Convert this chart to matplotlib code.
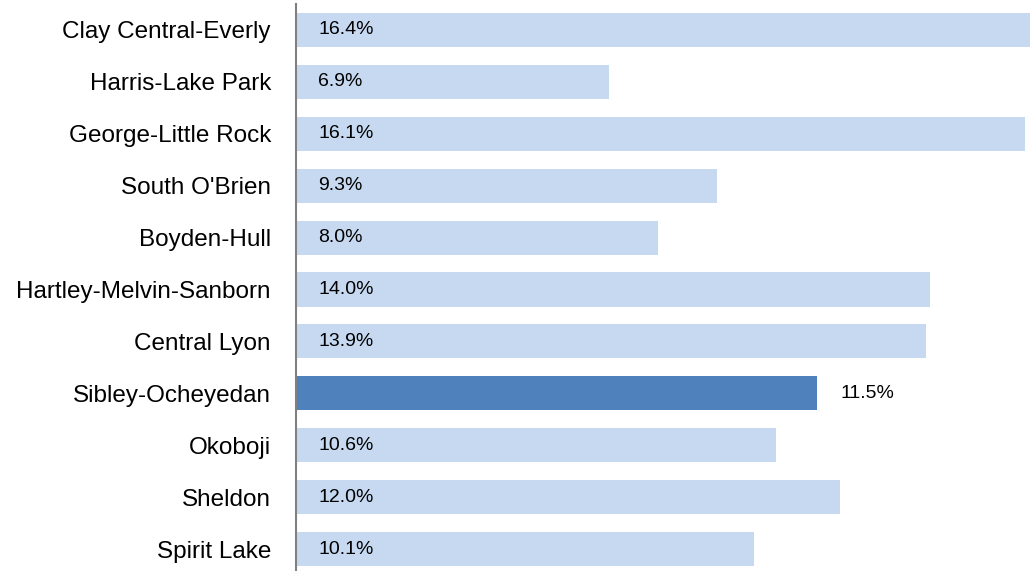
import numpy as np
import matplotlib.pyplot as plt

districts = ["Clay Central-Everly", "Harris-Lake Park", "George-Little Rock",
             "South O'Brien", "Boyden-Hull", "Hartley-Melvin-Sanborn",
             "Central Lyon", "Sibley-Ocheyedan", "Okoboji", "Sheldon", "Spirit Lake"]
pct = [16.4, 6.9, 16.1, 9.3, 8.0, 14.0, 13.9, 11.5, 10.6, 12.0, 10.1]
highlight = "Sibley-Ocheyedan"

light = "#C6D9F1"
dark = "#4F81BD"

plt.rcParams['font.family'] = ['Liberation Sans', 'DejaVu Sans']

fig = plt.figure(figsize=(10.30, 5.71), dpi=100)
ax = fig.add_axes([296/1030, -4/571, 1 - 296/1030, 571/571])

y = np.arange(len(districts))
colors = [dark if d == highlight else light for d in districts]
ax.barh(y, pct, height=0.655, color=colors, edgecolor="none")

# value labels: inside at the left, except the highlighted bar (outside its end)
for yi, d, v in zip(y, districts, pct):
    if d == highlight:
        ax.annotate(f"{v:.1f}%", xy=(v, yi), xytext=(17, 0), textcoords="offset points",
                    va="center", ha="left", fontsize=14)
    else:
        ax.annotate(f"{v:.1f}%", xy=(0, yi), xytext=(16, 0), textcoords="offset points",
                    va="center", ha="left", fontsize=14)

ax.set_xlim(0, 16.2)
ax.set_ylim(len(districts) - 0.5, -0.5)
ax.set_yticks(y)
ax.set_yticklabels(districts, fontsize=17.5)
ax.tick_params(axis="y", length=0, pad=18)
ax.set_xticks([])

for s in ["top", "right", "bottom"]:
    ax.spines[s].set_visible(False)
ax.spines["left"].set_color("#808080")
ax.spines["left"].set_linewidth(1.5)
ax.spines["left"].set_bounds(-0.5, len(districts) - 0.5)

fig.savefig("out.png", dpi=100)
